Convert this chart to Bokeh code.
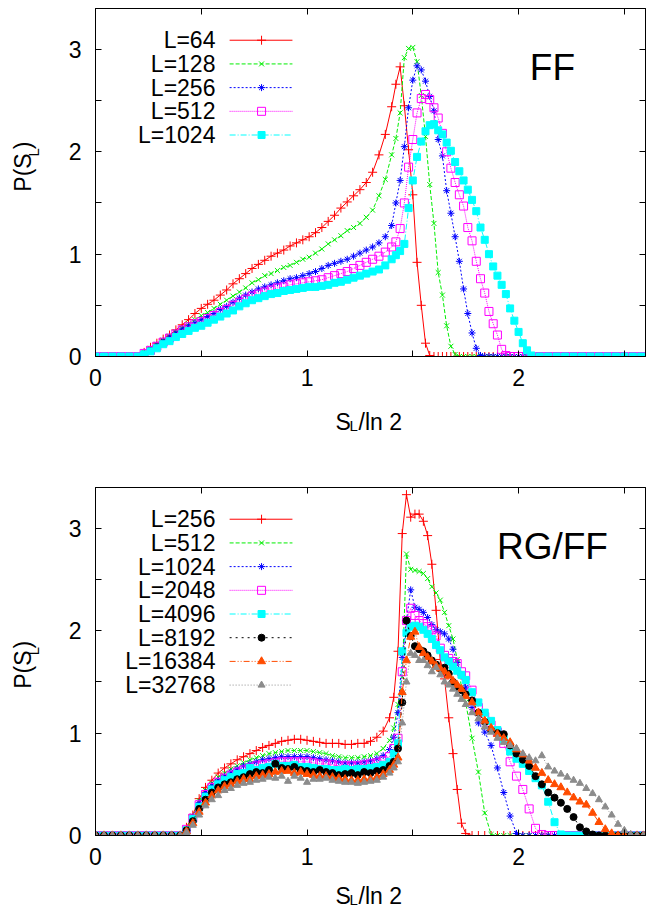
import numpy as np
from bokeh.plotting import figure
from bokeh.models import Range1d, FixedTicker, LinearAxis, Label
from bokeh.layouts import column, row
from bokeh.embed import file_html
from bokeh.resources import INLINE

FONT = "Liberation Sans"

# ---------------- data: top panel (FF) ----------------
X_TOP = [
    0.00, 0.04, 0.08, 0.12, 0.16, 0.20,
    0.23, 0.26, 0.29, 0.32, 0.35, 0.38, 0.41, 0.44, 0.47, 0.50,
    0.53, 0.56, 0.59, 0.62, 0.65, 0.68, 0.71, 0.74, 0.77, 0.80,
    0.83, 0.86, 0.89, 0.92, 0.95, 0.98, 1.01, 1.04, 1.07, 1.10,
    1.13, 1.16, 1.19, 1.22, 1.25, 1.28, 1.31, 1.34, 1.37, 1.40,
    1.42, 1.44, 1.46, 1.48, 1.50, 1.52, 1.54, 1.56, 1.58, 1.60,
    1.62, 1.64, 1.66, 1.68, 1.70, 1.72, 1.74, 1.76, 1.78, 1.80,
    1.82, 1.84, 1.86, 1.88, 1.90, 1.92, 1.94, 1.96, 1.98, 2.00,
    2.02, 2.04, 2.06,
    2.10, 2.14, 2.18, 2.22, 2.26, 2.30, 2.34, 2.38, 2.42, 2.46, 2.50, 2.54, 2.58]

Y_TOP_64 = [
    0, 0, 0, 0, 0, 0,
    0.04, 0.09, 0.13, 0.17, 0.21, 0.26, 0.31, 0.36, 0.42, 0.47,
    0.51, 0.55, 0.60, 0.65, 0.71, 0.76, 0.81, 0.86, 0.90, 0.94,
    0.98, 1.01, 1.04, 1.08, 1.11, 1.14, 1.17, 1.21, 1.26, 1.32,
    1.38, 1.45, 1.51, 1.57, 1.63, 1.70, 1.80, 1.97, 2.17, 2.44,
    2.66, 2.83, 2.45, 2.02, 1.58, 0.92, 0.50, 0.13, 0.01, 0,
    0, 0, 0, 0, 0, 0, 0, 0, 0, 0,
    0, 0, 0, 0, 0, 0, 0, 0, 0, 0,
    0, 0, 0,
    0, 0, 0, 0, 0, 0, 0, 0, 0, 0, 0, 0, 0]

Y_TOP_128 = [
    0, 0, 0, 0, 0, 0,
    0.04, 0.08, 0.12, 0.16, 0.20, 0.24, 0.28, 0.32, 0.36, 0.40,
    0.43, 0.47, 0.51, 0.55, 0.59, 0.63, 0.67, 0.72, 0.75, 0.79,
    0.81, 0.84, 0.87, 0.89, 0.92, 0.95, 0.97, 1.01, 1.05, 1.10,
    1.14, 1.18, 1.23, 1.26, 1.30, 1.36, 1.43, 1.57, 1.73, 1.97,
    2.13, 2.38, 2.92, 3.01, 3.02, 2.88, 2.55, 2.15, 1.68, 1.30,
    0.82, 0.60, 0.30, 0.10, 0.02, 0, 0, 0, 0, 0,
    0, 0, 0, 0, 0, 0, 0, 0, 0, 0,
    0, 0, 0,
    0, 0, 0, 0, 0, 0, 0, 0, 0, 0, 0, 0, 0]

Y_TOP_256 = [
    0, 0, 0, 0, 0, 0,
    0.03, 0.07, 0.11, 0.15, 0.19, 0.23, 0.27, 0.30, 0.33, 0.36,
    0.39, 0.42, 0.46, 0.49, 0.53, 0.57, 0.60, 0.63, 0.66, 0.68,
    0.70, 0.72, 0.74, 0.76, 0.77, 0.79, 0.81, 0.83, 0.86, 0.89,
    0.91, 0.93, 0.95, 0.98, 1.01, 1.04, 1.07, 1.11, 1.17, 1.28,
    1.50, 1.72, 2.05, 2.43, 2.70, 2.84, 2.80, 2.69, 2.54, 2.40,
    2.12, 1.96, 1.62, 1.40, 1.17, 0.93, 0.66, 0.42, 0.23, 0.08,
    0.01, 0, 0, 0, 0, 0, 0, 0, 0, 0,
    0, 0, 0,
    0, 0, 0, 0, 0, 0, 0, 0, 0, 0, 0, 0, 0]

Y_TOP_512 = [
    0, 0, 0, 0, 0, 0,
    0.03, 0.06, 0.10, 0.14, 0.18, 0.22, 0.26, 0.29, 0.32, 0.34,
    0.37, 0.40, 0.43, 0.46, 0.50, 0.53, 0.56, 0.59, 0.61, 0.63,
    0.65, 0.67, 0.68, 0.70, 0.71, 0.72, 0.73, 0.74, 0.75, 0.77,
    0.79, 0.81, 0.83, 0.86, 0.89, 0.92, 0.95, 0.98, 1.02, 1.07,
    1.12, 1.25, 1.50, 1.85, 2.12, 2.38, 2.52, 2.56, 2.51, 2.43,
    2.33, 2.18, 2.00, 1.84, 1.70, 1.58, 1.47, 1.26, 1.13, 0.93,
    0.76, 0.62, 0.44, 0.32, 0.21, 0.07, 0.01, 0, 0, 0,
    0, 0, 0,
    0, 0, 0, 0, 0, 0, 0, 0, 0, 0, 0, 0, 0]

Y_TOP_1024 = [
    0, 0, 0, 0, 0, 0,
    0.02, 0.05, 0.08, 0.12, 0.15, 0.19, 0.22, 0.25, 0.28, 0.30,
    0.33, 0.36, 0.39, 0.42, 0.45, 0.49, 0.52, 0.55, 0.57, 0.59,
    0.61, 0.62, 0.64, 0.65, 0.66, 0.67, 0.68, 0.68, 0.69, 0.70,
    0.72, 0.73, 0.75, 0.77, 0.79, 0.81, 0.83, 0.85, 0.89, 0.95,
    0.99, 1.03, 1.10, 1.45, 1.72, 1.95, 2.10, 2.20, 2.26, 2.27,
    2.21, 2.17, 2.09, 2.01, 1.90, 1.81, 1.72, 1.63, 1.53, 1.42,
    1.26, 1.14, 1.00, 0.88, 0.79, 0.70, 0.61, 0.47, 0.35, 0.24,
    0.13, 0.06, 0.01,
    0, 0, 0, 0, 0, 0, 0, 0, 0, 0, 0, 0, 0]

TOP_SERIES = [Y_TOP_64, Y_TOP_128, Y_TOP_256, Y_TOP_512, Y_TOP_1024]
TOP_LABELS = ["L=64", "L=128", "L=256", "L=512", "L=1024"]

# ---------------- data: bottom panel (RG/FF) ----------------
X_BOT = [
    0.00, 0.04, 0.08, 0.12, 0.16, 0.20, 0.24, 0.28, 0.32, 0.36, 0.40,
    0.43, 0.46, 0.49, 0.52, 0.55, 0.58, 0.61, 0.64, 0.67, 0.70,
    0.73, 0.76, 0.79, 0.82, 0.85, 0.88, 0.91, 0.94, 0.97, 1.00,
    1.03, 1.06, 1.09, 1.12, 1.15, 1.18, 1.21, 1.24, 1.27, 1.30,
    1.33, 1.36, 1.39,
    1.41, 1.43, 1.45, 1.47, 1.49, 1.51, 1.53, 1.55, 1.57, 1.59,
    1.61, 1.63, 1.65, 1.67, 1.69, 1.71, 1.73, 1.75,
    1.78, 1.81, 1.84, 1.87, 1.90, 1.93, 1.96, 1.99, 2.02, 2.05,
    2.08, 2.11, 2.14, 2.17, 2.20, 2.23, 2.26, 2.29, 2.32, 2.35,
    2.38, 2.41, 2.44, 2.47, 2.50, 2.53, 2.56, 2.59]

Y_BOT_256 = [
    0, 0, 0, 0, 0, 0, 0, 0, 0, 0, 0,
    0.08, 0.20, 0.36, 0.47, 0.54, 0.61, 0.66, 0.70, 0.74, 0.77,
    0.80, 0.83, 0.86, 0.88, 0.90, 0.92, 0.93, 0.94, 0.94, 0.93,
    0.92, 0.91, 0.90, 0.90, 0.90, 0.89, 0.89, 0.90, 0.90, 0.92,
    0.96, 1.02, 1.15,
    1.35, 1.80, 2.95, 3.33, 3.11, 3.14, 3.14, 3.07, 2.93, 2.65,
    2.20, 1.72, 1.53, 1.15, 0.80, 0.45, 0.12, 0.02,
    0, 0, 0, 0, 0, 0, 0, 0, 0, 0,
    0, 0, 0, 0, 0, 0, 0, 0, 0, 0,
    0, 0, 0, 0, 0, 0, 0, 0]

Y_BOT_512 = [
    0, 0, 0, 0, 0, 0, 0, 0, 0, 0, 0,
    0.07, 0.19, 0.34, 0.44, 0.51, 0.57, 0.61, 0.65, 0.68, 0.71,
    0.74, 0.76, 0.78, 0.80, 0.81, 0.82, 0.83, 0.83, 0.83, 0.83,
    0.82, 0.81, 0.80, 0.78, 0.77, 0.76, 0.76, 0.76, 0.77, 0.78,
    0.80, 0.85, 0.93,
    1.05, 1.28, 1.55, 2.75, 2.60, 2.59, 2.58, 2.56, 2.51, 2.43,
    2.37, 2.30, 2.18, 2.05, 1.92, 1.72, 1.45, 1.30,
    0.95, 0.62, 0.22, 0.01, 0, 0, 0, 0, 0, 0,
    0, 0, 0, 0, 0, 0, 0, 0, 0, 0,
    0, 0, 0, 0, 0, 0, 0, 0]

Y_BOT_1024 = [
    0, 0, 0, 0, 0, 0, 0, 0, 0, 0, 0,
    0.06, 0.18, 0.32, 0.42, 0.49, 0.54, 0.58, 0.62, 0.65, 0.68,
    0.70, 0.72, 0.74, 0.75, 0.76, 0.77, 0.77, 0.77, 0.77, 0.77,
    0.76, 0.75, 0.74, 0.73, 0.72, 0.71, 0.71, 0.71, 0.72, 0.73,
    0.75, 0.78, 0.84,
    0.96, 1.20, 1.74, 2.10, 2.40, 2.23, 2.21, 2.18, 2.13, 2.06,
    2.01, 1.99, 1.97, 1.92, 1.82, 1.69, 1.57, 1.45,
    1.25, 1.10, 1.01, 0.88, 0.66, 0.42, 0.19, 0.02, 0, 0,
    0, 0, 0, 0, 0, 0, 0, 0, 0, 0,
    0, 0, 0, 0, 0, 0, 0, 0]

Y_BOT_2048 = [
    0, 0, 0, 0, 0, 0, 0, 0, 0, 0, 0,
    0.06, 0.17, 0.30, 0.40, 0.47, 0.52, 0.56, 0.59, 0.62, 0.64,
    0.66, 0.68, 0.69, 0.70, 0.71, 0.72, 0.72, 0.72, 0.72, 0.72,
    0.71, 0.70, 0.70, 0.69, 0.68, 0.68, 0.68, 0.68, 0.69, 0.70,
    0.71, 0.73, 0.77,
    0.85, 0.95, 1.60, 2.10, 2.22, 2.15, 2.10, 2.07, 2.04, 2.01,
    1.95, 1.83, 1.76, 1.73, 1.70, 1.68, 1.60, 1.56,
    1.42, 1.25, 1.16, 1.08, 1.01, 0.90, 0.72, 0.58, 0.45, 0.26,
    0.07, 0.01, 0, 0, 0, 0, 0, 0, 0, 0,
    0, 0, 0, 0, 0, 0, 0, 0]

Y_BOT_4096 = [
    0, 0, 0, 0, 0, 0, 0, 0, 0, 0, 0,
    0.05, 0.16, 0.28, 0.38, 0.45, 0.50, 0.54, 0.57, 0.60, 0.61,
    0.66, 0.64, 0.66, 0.67, 0.70, 0.68, 0.68, 0.69, 0.67, 0.67,
    0.66, 0.65, 0.65, 0.64, 0.64, 0.65, 0.64, 0.65, 0.65, 0.66,
    0.67, 0.69, 0.72,
    0.80, 0.90, 1.80, 1.98, 2.04, 2.05, 2.04, 2.01, 1.97, 1.92,
    1.86, 1.81, 1.74, 1.70, 1.65, 1.61, 1.57, 1.52,
    1.40, 1.30, 1.20, 1.12, 1.03, 0.94, 0.82, 0.75, 0.70, 0.63,
    0.56, 0.49, 0.33, 0.13, 0.01, 0, 0, 0, 0, 0,
    0, 0, 0, 0, 0, 0, 0, 0]

Y_BOT_8192 = [
    0, 0, 0, 0, 0, 0, 0, 0, 0, 0, 0,
    0.05, 0.14, 0.26, 0.35, 0.42, 0.47, 0.50, 0.52, 0.55, 0.57,
    0.60, 0.62, 0.61, 0.64, 0.70, 0.66, 0.65, 0.67, 0.64, 0.63,
    0.62, 0.64, 0.62, 0.61, 0.59, 0.60, 0.61, 0.59, 0.62, 0.61,
    0.63, 0.64, 0.68,
    0.72, 0.85, 1.30, 2.10, 1.95, 1.85, 1.82, 1.80, 1.76, 1.71,
    1.67, 1.63, 1.64, 1.58, 1.50, 1.45, 1.42, 1.38,
    1.32, 1.20, 1.11, 1.03, 1.00, 0.99, 0.88, 0.80, 0.74, 0.68,
    0.58, 0.50, 0.42, 0.37, 0.32, 0.26, 0.18, 0.08, 0.04, 0.01,
    0, 0, 0, 0, 0, 0, 0, 0]

Y_BOT_16384 = [
    0, 0, 0, 0, 0, 0, 0, 0, 0, 0, 0,
    0.04, 0.12, 0.23, 0.32, 0.39, 0.44, 0.48, 0.50, 0.53, 0.55,
    0.55, 0.58, 0.59, 0.60, 0.62, 0.63, 0.63, 0.61, 0.62, 0.60,
    0.59, 0.58, 0.58, 0.57, 0.56, 0.55, 0.54, 0.54, 0.55, 0.55,
    0.57, 0.60, 0.64,
    0.69, 0.76, 1.40, 1.71, 1.94, 1.99, 1.84, 1.78, 1.74, 1.70,
    1.66, 1.63, 1.60, 1.56, 1.51, 1.47, 1.43, 1.36,
    1.30, 1.20, 1.12, 1.05, 0.99, 0.95, 0.91, 0.84, 0.79, 0.73,
    0.66, 0.61, 0.54, 0.50, 0.47, 0.42, 0.37, 0.33, 0.30, 0.22,
    0.13, 0.06, 0.02, 0, 0, 0, 0, 0]

Y_BOT_32768 = [
    0, 0, 0, 0, 0, 0, 0, 0, 0, 0, 0,
    0.03, 0.10, 0.20, 0.29, 0.35, 0.39, 0.44, 0.46, 0.49, 0.51,
    0.52, 0.54, 0.55, 0.57, 0.56, 0.58, 0.53, 0.58, 0.56, 0.52,
    0.55, 0.55, 0.56, 0.54, 0.53, 0.52, 0.52, 0.51, 0.52, 0.53,
    0.54, 0.57, 0.61,
    0.66, 0.72, 1.10, 1.50, 1.78, 1.76, 1.71, 1.71, 1.66, 1.60,
    1.64, 1.57, 1.50, 1.47, 1.43, 1.38, 1.33, 1.28,
    1.20, 1.14, 1.06, 1.01, 0.95, 0.91, 0.88, 0.85, 0.80, 0.76,
    0.73, 0.78, 0.67, 0.63, 0.60, 0.57, 0.54, 0.51, 0.46, 0.41,
    0.35, 0.28, 0.20, 0.11, 0.05, 0.01, 0, 0]

BOT_SERIES = [Y_BOT_256, Y_BOT_512, Y_BOT_1024, Y_BOT_2048,
              Y_BOT_4096, Y_BOT_8192, Y_BOT_16384, Y_BOT_32768]
BOT_LABELS = ["L=256", "L=512", "L=1024", "L=2048",
              "L=4096", "L=8192", "L=16384", "L=32768"]

X_TICKS = [0, 1, 2]
X_MINOR = [0.5, 1.5, 2.5]
Y_TICKS = [0, 1, 2, 3]
Y_MINOR = [0.5, 1.5, 2.5]

for ys in TOP_SERIES:
    assert len(ys) == len(X_TOP), len(ys)
for ys in BOT_SERIES:
    assert len(ys) == len(X_BOT), len(ys)

# ---------------- styles (gnuplot-like) ----------------
STYLES = [
    dict(color="#ff0000", dash="solid", marker="cross", size=9, fill=False),
    dict(color="#00ee00", dash="4 2", marker="x", size=7, fill=False),
    dict(color="#0000ff", dash="2 2", marker="asterisk", size=7, fill=False),
    dict(color="#ff00ff", dash="1 1", marker="square", size=8, fill=False),
    dict(color="#00ffff", dash="6 2 1 2", marker="square", size=7, fill=True),
    dict(color="#000000", dash="2 4", marker="circle", size=7, fill=True),
    dict(color="#ff4c00", dash="6 2 1 2 1 2", marker="triangle", size=8, fill=True),
    dict(color="#8c8c8c", dash="1 2", marker="triangle", size=7, fill=True),
]

FS = "23px"
SUB = "15px"

# page geometry (page has no margin)
YL_W = 44            # width of the strip holding the rotated y label
LEFT = 51            # left border of the plot figure (frame left at 95)
FRAME_W, FRAME_H = 550, 348
RIGHT = 8
TOP1, BOT1 = 8, 43   # frame 8..356, figure ends at 399
XL1_H = 42           # 399..441
TOP2, BOT2 = 46, 38  # frame 487..835, figure ends at 873
XL2_H = 35           # 873..908
TOTAL_W = YL_W + LEFT + FRAME_W + RIGHT


def style_axis(ax, ticker, show):
    ax.ticker = ticker
    ax.axis_line_color = "black"
    ax.major_tick_line_color = "black"
    ax.minor_tick_line_color = "black"
    ax.major_tick_in = 6
    ax.major_tick_out = 0
    ax.minor_tick_in = 6
    ax.minor_tick_out = 0
    if show:
        ax.major_label_text_font = FONT
        ax.major_label_text_font_size = FS
        ax.major_label_text_color = "black"
    else:
        ax.major_label_text_font_size = "0px"
        ax.major_label_standoff = 0
        ax.major_label_text_color = None


def add_curve(p, x, y, st):
    p.line(x, y, line_color=st["color"], line_dash=st["dash"], line_width=1)
    p.scatter(x, y, marker=st["marker"], size=st["size"], line_color=st["color"],
              fill_color=st["color"] if st["fill"] else None, line_width=1)


LEG_TEXT_X = 0.567
LEG_X0, LEG_X1, LEG_MX = 0.634, 0.931, 0.785
LEG_Y0, LEG_DY = 3.09, 0.2315


def make_panel(xs, series, labels, title, top_border, bottom_border):
    p = figure(frame_width=FRAME_W, frame_height=FRAME_H,
               x_range=Range1d(0, 2.6), y_range=Range1d(0, 3.4),
               output_backend="svg", toolbar_location=None,
               min_border_left=LEFT, min_border_right=RIGHT,
               min_border_top=top_border, min_border_bottom=bottom_border,
               background_fill_color="white", border_fill_color="white",
               outline_line_color="black")
    p.grid.visible = False
    style_axis(p.xaxis[0], FixedTicker(ticks=X_TICKS, minor_ticks=X_MINOR), True)
    style_axis(p.yaxis[0], FixedTicker(ticks=Y_TICKS, minor_ticks=Y_MINOR), True)
    p.xaxis[0].major_label_standoff = 12
    p.yaxis[0].major_label_standoff = 14
    top = LinearAxis()
    style_axis(top, FixedTicker(ticks=X_TICKS, minor_ticks=X_MINOR), False)
    p.add_layout(top, "above")
    right = LinearAxis()
    style_axis(right, FixedTicker(ticks=Y_TICKS, minor_ticks=Y_MINOR), False)
    p.add_layout(right, "right")

    for ys, st in zip(series, STYLES):
        add_curve(p, xs, ys, st)

    # legend: text right-aligned, line sample with one marker to its right
    for i, (lab, st) in enumerate(zip(labels, STYLES)):
        yy = LEG_Y0 - i * LEG_DY
        p.add_layout(Label(x=LEG_TEXT_X, y=yy, text=lab, text_align="right",
                           text_baseline="middle", text_font=FONT,
                           text_font_size=FS, text_color="black"))
        p.line([LEG_X0, LEG_X1], [yy, yy], line_color=st["color"],
               line_dash=st["dash"], line_width=1)
        p.scatter([LEG_MX], [yy], marker=st["marker"], size=st["size"],
                  line_color=st["color"],
                  fill_color=st["color"] if st["fill"] else None, line_width=1)
    p.add_layout(Label(x=2.16, y=2.82, text=title, text_align="center",
                       text_baseline="middle", text_font=FONT,
                       text_font_size="37px", text_color="black"))
    return p


def blank(w, h):
    f = figure(width=w, height=h, x_range=Range1d(0, w), y_range=Range1d(0, h),
               output_backend="svg", toolbar_location=None, min_border=0,
               x_axis_location=None, y_axis_location=None,
               outline_line_color=None, background_fill_color="white",
               border_fill_color="white")
    f.grid.visible = False
    return f


def ylabel_strip(h, frame_top):
    # rotated "P(S_L)"; pieces placed by their centres (strip coords, y up)
    f = blank(YL_W, h)
    ang = np.pi / 2
    c = frame_top + 180          # centre line of the label measured from top
    f.add_layout(Label(x=22, y=h - c, text="P(S", angle=ang, text_align="center",
                       text_baseline="middle", text_font=FONT,
                       text_font_size=FS, text_color="black"))
    f.add_layout(Label(x=33, y=h - (c - 23), text="L", angle=ang, text_align="center",
                       text_baseline="middle", text_font=FONT,
                       text_font_size=SUB, text_color="black"))
    f.add_layout(Label(x=22, y=h - (c - 31), text=")", angle=ang, text_align="center",
                       text_baseline="middle", text_font=FONT,
                       text_font_size=FS, text_color="black"))
    return f


def xlabel_strip(h, base_from_top):
    f = blank(TOTAL_W, h)
    yb = h - base_from_top
    f.add_layout(Label(x=335, y=yb, text="S", text_align="left",
                       text_baseline="alphabetic", text_font=FONT,
                       text_font_size=FS, text_color="black"))
    f.add_layout(Label(x=349, y=yb - 4, text="L", text_align="left",
                       text_baseline="alphabetic", text_font=FONT,
                       text_font_size=SUB, text_color="black"))
    f.add_layout(Label(x=358, y=yb, text="/ln 2", text_align="left",
                       text_baseline="alphabetic", text_font=FONT,
                       text_font_size=FS, text_color="black"))
    return f


p1 = make_panel(X_TOP, TOP_SERIES, TOP_LABELS, "FF", TOP1, BOT1)
p2 = make_panel(X_BOT, BOT_SERIES, BOT_LABELS, "RG/FF", TOP2, BOT2)
H1 = TOP1 + FRAME_H + BOT1
H2 = TOP2 + FRAME_H + BOT2
yl1 = ylabel_strip(H1, TOP1)
yl2 = ylabel_strip(H2, TOP2)
xl1 = xlabel_strip(XL1_H, 22)
xl2 = xlabel_strip(XL2_H, 22)

layout = column(row(yl1, p1), xl1, row(yl2, p2), xl2)
open("out.html", "w").write(file_html(layout, INLINE))
